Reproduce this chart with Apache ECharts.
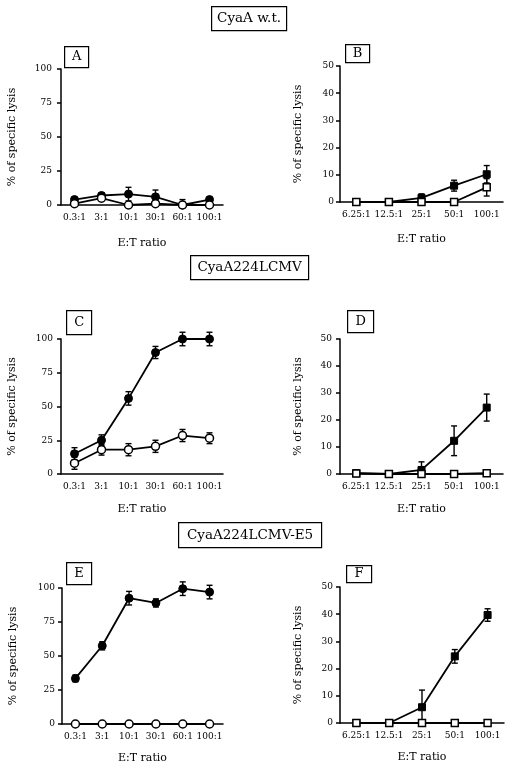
<!DOCTYPE html>
<html>
<head>
<meta charset="utf-8">
<script src="https://cdn.jsdelivr.net/npm/echarts@6/dist/echarts.min.js"></script>
<style>
html,body{margin:0;padding:0;background:#fff;}
#chart{width:520px;height:775px;}
</style>
</head>
<body>
<div id="chart"></div>
<script>
// ---- data ----
const catsWide = ['0.3:1', '3:1', '10:1', '30:1', '60:1', '100:1'];
const catsNarrow = ['6.25:1', '12.5:1', '25:1', '50:1', '100:1'];

const aFilled = [4, 7, 8, 6, 0, 4];
const aFilledErr = [1, 2, 5, 5, 0, 1];
const aOpen = [1, 5, 0, 1, 0, 0];
const aOpenErr = [1, 1, 0, 0, 4, 0];

const bFilled = [0, 0, 1.5, 6, 10.2];
const bFilledErr = [0, 0, 1.5, 2, 3.2];
const bOpen = [0, 0, 0, 0, 5.4];
const bOpenErr = [0, 0, 0, 0, 3.2];

const cFilled = [15, 25, 56, 90, 100, 100];
const cFilledErr = [4.5, 4, 5, 4.5, 5, 5];
const cOpen = [8, 18, 18, 20.5, 28.5, 26.5];
const cOpenErr = [4.5, 4, 4.5, 4.5, 4.5, 4];

const dFilled = [0.3, 0, 1.5, 12.3, 24.6];
const dFilledErr = [0, 0, 3, 5.5, 5];
const dOpen = [0.2, 0, 0, 0, 0.3];
const dOpenErr = [0, 0, 0, 0, 0];

const eFilled = [33.5, 57.5, 92.5, 89, 99.5, 97];
const eFilledErr = [2.5, 3, 5, 3, 5, 5];
const eOpen = [0, 0, 0, 0, 0, 0];
const eOpenErr = [0, 0, 0, 0, 0, 0];

const fFilled = [0, 0, 5.8, 24.5, 39.7];
const fFilledErr = [0, 0, 6.3, 2.5, 2.3];
const fOpen = [0, 0, 0, 0, 0];
const fOpenErr = [0, 0, 0, 0, 0];

const yTicksWide = [0, 25, 50, 75, 100];
const yTicksNarrow = [0, 10, 20, 30, 40, 50];

const xName = 'E:T ratio';
const yName = '% of specific lysis';
const groupTitles = ['CyaA w.t.', 'CyaA224LCMV', 'CyaA224LCMV-E5'];
const panelLetters = ['A', 'B', 'C', 'D', 'E', 'F'];

// ---- layout ----
const FONT = '"DejaVu Serif", serif';
const BLACK = '#000';
const grids = [
  {left: 61, top: 69, width: 162, height: 136},
  {left: 340, top: 66, width: 163, height: 136},
  {left: 61, top: 339, width: 162, height: 135},
  {left: 340, top: 339, width: 163, height: 135},
  {left: 62, top: 588, width: 161, height: 136},
  {left: 340, top: 587, width: 164, height: 136}
];
const yLabelMargins = [9, 6, 8, 8, 7, 7];
const xNameGaps = [33, 32, 30, 30, 29, 29];
const panels = [
  {cats: catsWide, max: 100, interval: 25, sym: 'circle', f: aFilled, fe: aFilledErr, o: aOpen, oe: aOpenErr},
  {cats: catsNarrow, max: 50, interval: 10, sym: 'rect', f: bFilled, fe: bFilledErr, o: bOpen, oe: bOpenErr},
  {cats: catsWide, max: 100, interval: 25, sym: 'circle', f: cFilled, fe: cFilledErr, o: cOpen, oe: cOpenErr},
  {cats: catsNarrow, max: 50, interval: 10, sym: 'rect', f: dFilled, fe: dFilledErr, o: dOpen, oe: dOpenErr},
  {cats: catsWide, max: 100, interval: 25, sym: 'circle', f: eFilled, fe: eFilledErr, o: eOpen, oe: eOpenErr},
  {cats: catsNarrow, max: 50, interval: 10, sym: 'rect', f: fFilled, fe: fFilledErr, o: fOpen, oe: fOpenErr}
];

function errRender(params, api) {
  const x = api.value(0), v = api.value(1), e = api.value(2);
  if (!e) return null;
  const lo = Math.max(0, v - e);
  const top = api.coord([x, v + e]);
  const bot = api.coord([x, lo]);
  const hw = 3;
  const st = {stroke: BLACK, lineWidth: 1.4};
  const ch = [
    {type: 'line', shape: {x1: top[0], y1: top[1], x2: bot[0], y2: bot[1]}, style: st},
    {type: 'line', shape: {x1: top[0] - hw, y1: top[1], x2: top[0] + hw, y2: top[1]}, style: st}
  ];
  if (v - e >= 0) ch.push({type: 'line', shape: {x1: bot[0] - hw, y1: bot[1], x2: bot[0] + hw, y2: bot[1]}, style: st});
  return {type: 'group', children: ch};
}

const xAxes = [], yAxes = [], series = [];
panels.forEach((p, i) => {
  xAxes.push({
    gridIndex: i, type: 'category', data: p.cats, boundaryGap: true,
    axisLine: {lineStyle: {color: BLACK, width: 1.5}},
    axisTick: {alignWithLabel: true, length: 4, lineStyle: {color: BLACK, width: 1.5}},
    axisLabel: {interval: 0, fontFamily: FONT, fontSize: 9, color: BLACK, margin: 8},
    name: xName, nameLocation: 'middle', nameGap: xNameGaps[i],
    nameTextStyle: {fontFamily: FONT, fontSize: 11, color: BLACK}
  });
  yAxes.push({
    gridIndex: i, type: 'value', min: 0, max: p.max, interval: p.interval,
    axisLine: {show: true, lineStyle: {color: BLACK, width: 1.5}},
    axisTick: {show: true, length: 4, lineStyle: {color: BLACK, width: 1.5}},
    splitLine: {show: false},
    axisLabel: {fontFamily: FONT, fontSize: 9, color: BLACK, margin: yLabelMargins[i]},
    name: yName, nameLocation: 'middle', nameGap: i % 2 === 0 ? 43 : 36,
    nameTextStyle: {fontFamily: FONT, fontSize: 11, color: BLACK}
  });
  const symSize = p.sym === 'circle' ? 8 : 7;
  series.push({
    type: 'custom', xAxisIndex: i, yAxisIndex: i, renderItem: errRender, z: 1,
    data: p.f.map((v, k) => [k, v, p.fe[k]]).concat(p.o.map((v, k) => [k, v, p.oe[k]]))
  });
  series.push({
    type: 'line', xAxisIndex: i, yAxisIndex: i, data: p.f, z: 3,
    symbol: p.sym, symbolSize: symSize,
    lineStyle: {color: BLACK, width: 1.8},
    itemStyle: {color: BLACK, borderColor: BLACK, borderWidth: 1}
  });
  series.push({
    type: 'line', xAxisIndex: i, yAxisIndex: i, data: p.o, z: 4,
    symbol: p.sym, symbolSize: symSize,
    lineStyle: {color: BLACK, width: 1.8},
    itemStyle: {color: '#fff', borderColor: BLACK, borderWidth: 1.5}
  });
});

function boxLabel(text, x, y, w, h, fs) {
  return {
    type: 'group', left: x, top: y,
    children: [
      {type: 'rect', shape: {x: 0, y: 0, width: w, height: h}, style: {fill: '#fff', stroke: BLACK, lineWidth: 1.2}},
      {type: 'text', x: w / 2, y: h / 2, style: {text: text, fontFamily: FONT, fontSize: fs, fill: BLACK, align: 'center', verticalAlign: 'middle'}}
    ]
  };
}

const graphic = [
  boxLabel(groupTitles[0], 211, 6, 75, 24, 13.5),
  boxLabel(groupTitles[1], 190, 255, 118, 24, 13.5),
  boxLabel(groupTitles[2], 178, 522, 143, 25, 13.5),
  boxLabel(panelLetters[0], 64, 46, 24, 21, 13),
  boxLabel(panelLetters[1], 345, 44, 24, 18, 13),
  boxLabel(panelLetters[2], 66, 310, 25, 24, 13),
  boxLabel(panelLetters[3], 347, 310, 26, 22, 13),
  boxLabel(panelLetters[4], 66, 562, 25, 22, 13),
  boxLabel(panelLetters[5], 346, 565, 25, 17, 13)
];

const chart = echarts.init(document.getElementById('chart'), null, {renderer: 'canvas'});
chart.setOption({
  animation: false,
  backgroundColor: '#fff',
  grid: grids,
  xAxis: xAxes,
  yAxis: yAxes,
  series: series,
  graphic: graphic
});
</script>
</body>
</html>
